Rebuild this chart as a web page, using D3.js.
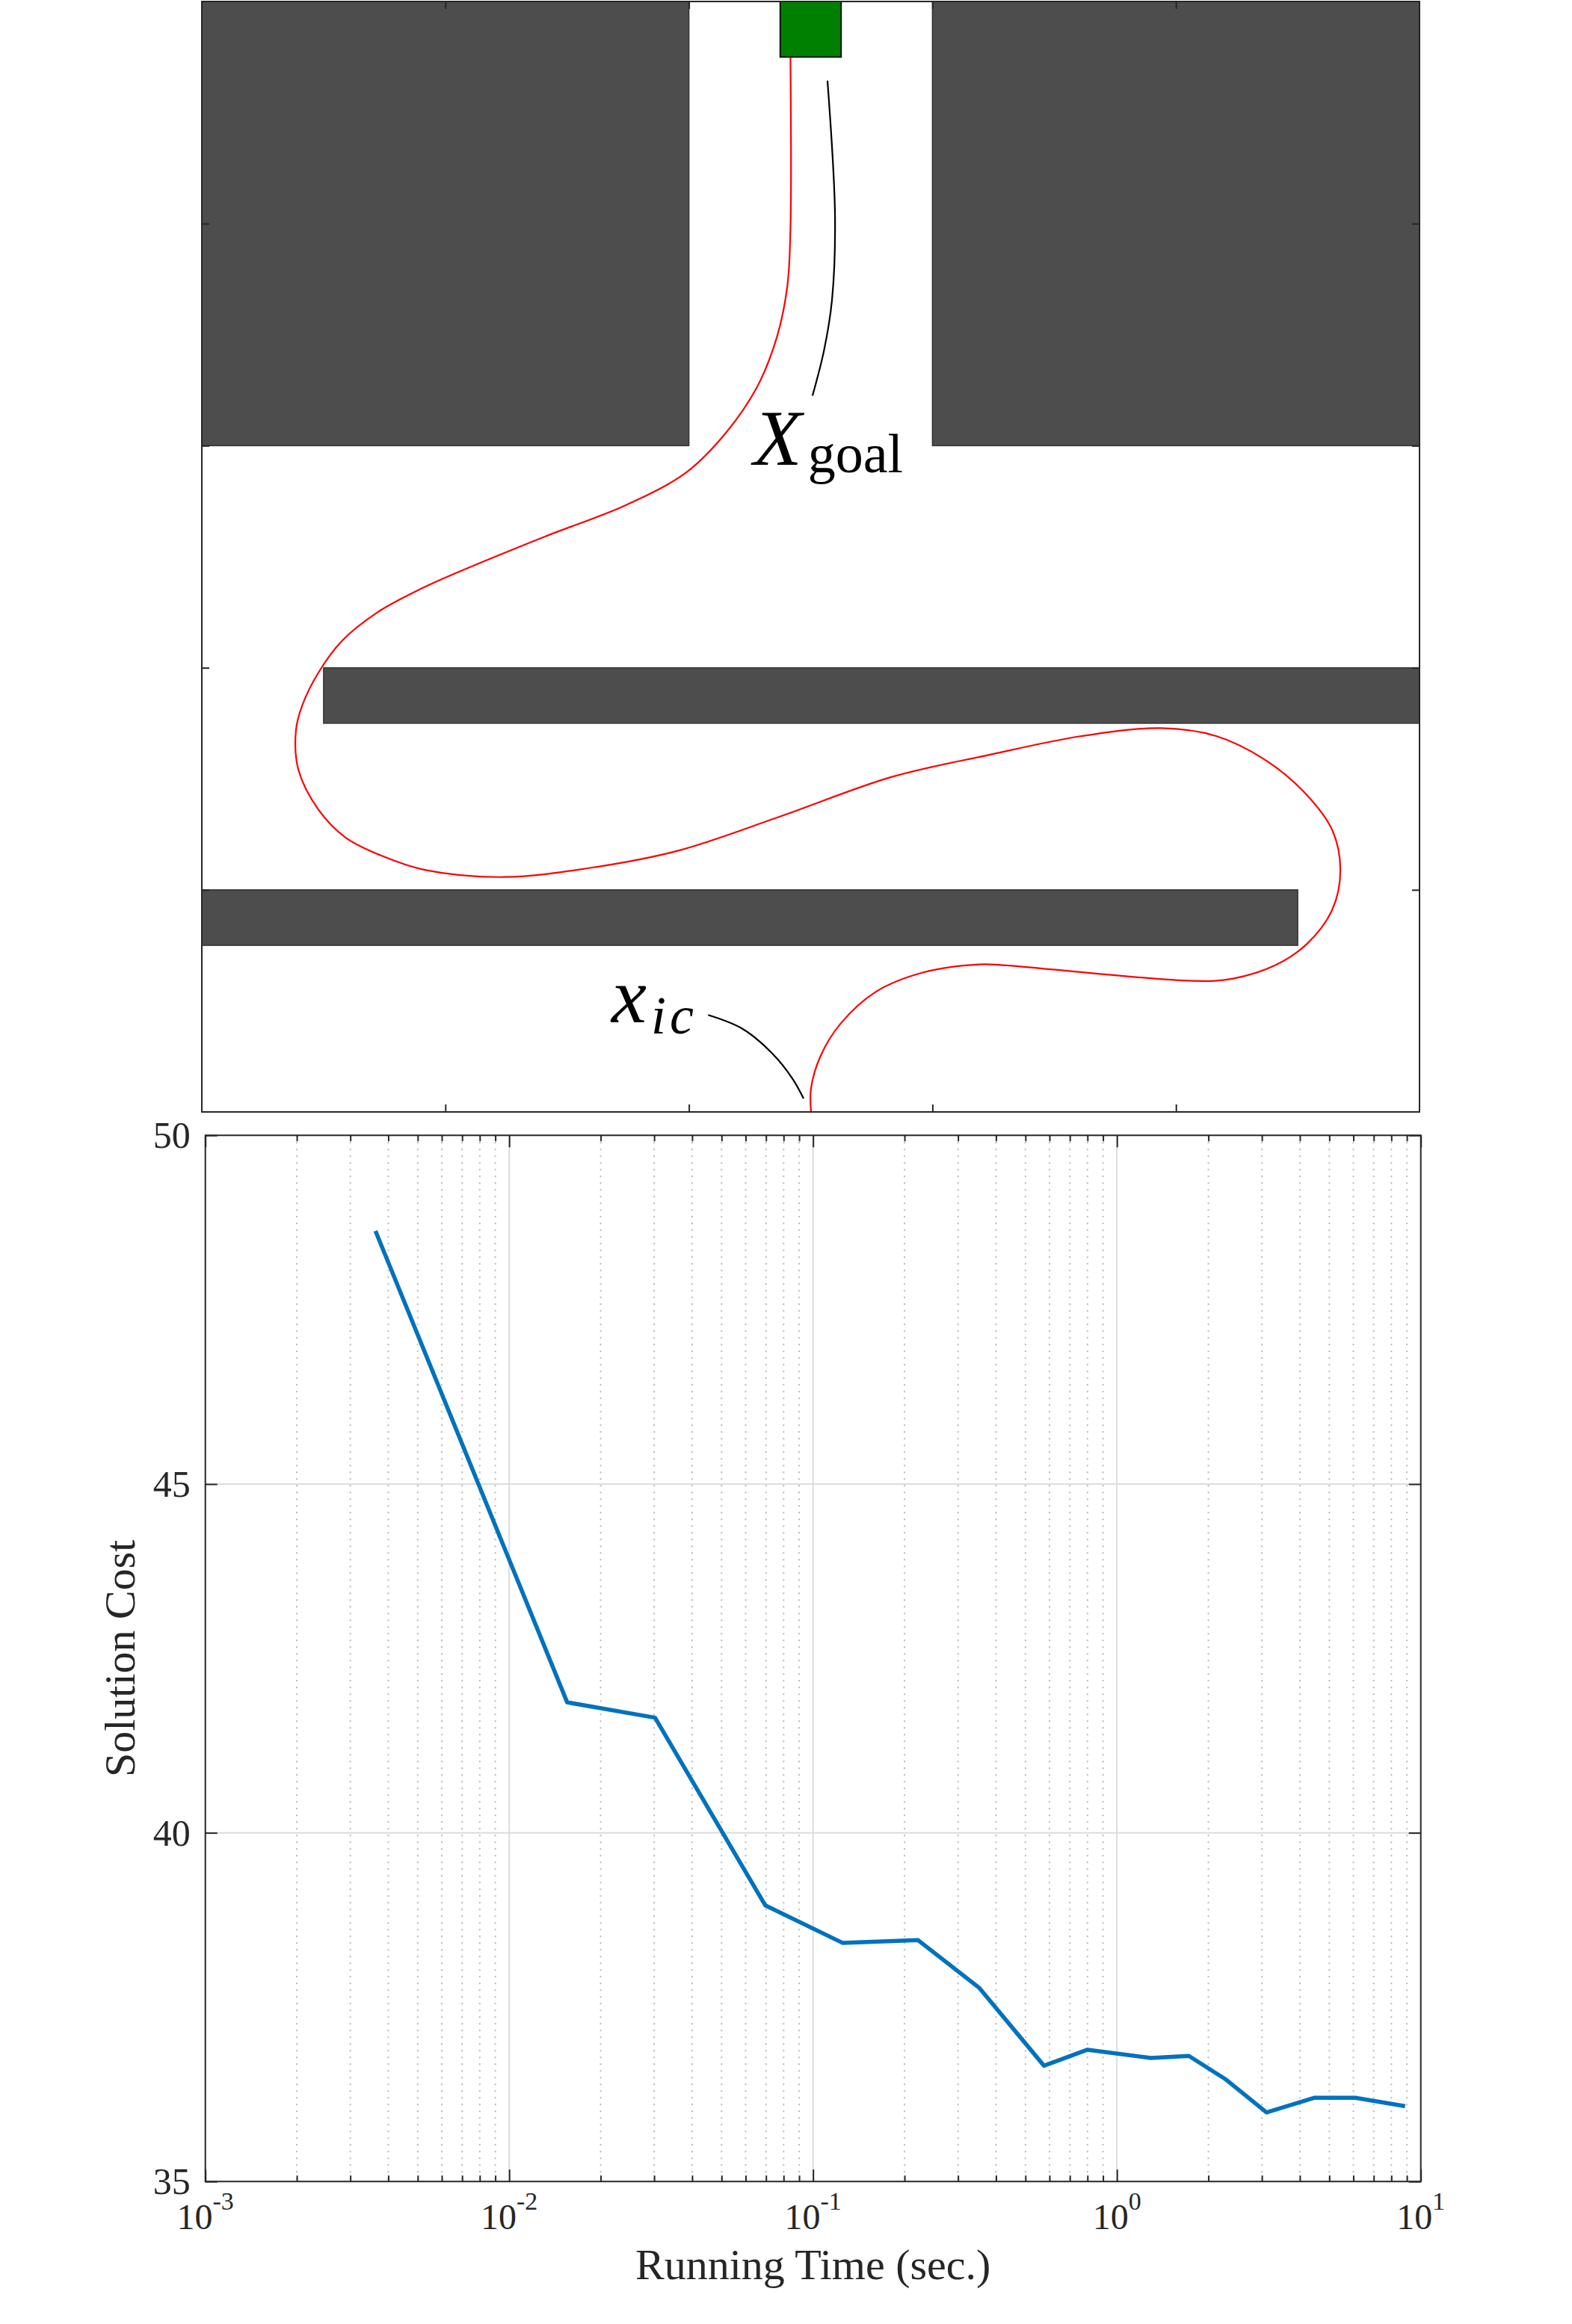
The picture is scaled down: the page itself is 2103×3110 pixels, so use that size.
<!DOCTYPE html>
<html><head><meta charset="utf-8">
<script src="https://cdn.jsdelivr.net/npm/d3@7"></script>
<style>body{margin:0;background:#fff} svg{display:block}</style>
</head><body><svg id="c" width="2103" height="3110"></svg>
<script>
// ---------------- data ----------------
// bottom panel: solution cost vs running time
const runTime = [0.00363,0.01552,0.0302,0.0696,0.1253,0.2216,0.3516,0.5754,0.8003,1.2935,1.725,2.288,3.107,4.455,6.084,8.878];
const solutionCost = [48.63,41.87,41.65,38.96,38.42,38.46,37.78,36.66,36.89,36.77,36.80,36.46,35.99,36.20,36.20,36.08];
const xMajorTicks = [1e-3,1e-2,1e-1,1e0,1e1];
const xTickExponents = ["-3","-2","-1","0","1"];
const yTicks = [35,40,45,50];
const xAxisLabel = "Running Time (sec.)";
const yAxisLabel = "Solution Cost";

// top panel: workspace
const obstacleXMin = [0,6,1,0];
const obstacleXMax = [4,10,10,9];
const obstacleYMin = [6,6,3.5,1.5];
const obstacleYMax = [10,10,4,2];
const goalX = [4.75,5.25];
const goalY = [9.5,10];
const pathX = [4.834,4.834,4.808,4.724,4.561,4.301,3.977,3.489,2.807,2.092,1.767,1.443,1.150,0.955,0.825,0.773,0.793,0.955,1.183,1.475,1.832,2.482,3.197,3.912,4.756,5.666,6.446,7.225,7.875,8.330,8.720,9.045,9.285,9.350,9.285,9.077,8.817,8.460,8.135,6.576,6.381,5.926,5.536,5.244,5.081,5.003,5.003];
const pathY = [9.497,7.95,7.434,6.983,6.531,6.112,5.758,5.468,5.177,4.855,4.694,4.5,4.242,3.952,3.662,3.437,3.082,2.727,2.469,2.308,2.179,2.115,2.199,2.353,2.663,3.017,3.211,3.385,3.456,3.385,3.179,2.888,2.534,2.179,1.825,1.515,1.322,1.199,1.180,1.322,1.328,1.257,1.083,0.793,0.503,0.213,0.0];
const goalLeaderX = [5.138,5.2,5.175,5.11,5.015];
const goalLeaderY = [9.287,8.06,7.31,6.86,6.45];
const icLeaderX = [4.158,4.44,4.686,4.85,4.942];
const icLeaderY = [0.873,0.749,0.525,0.301,0.121];
const workspaceTicks = [2,4,6,8];

// ---------------- drawing ----------------
const svg = d3.select("#c");
const axisColor = "#262626";
const serif = "Liberation Serif, Times New Roman, serif";

// ===== top panel =====
const T = {l:270, r:1899, t:2, b:1488};
const xT = d3.scaleLinear().domain([0,10]).range([T.l,T.r]);
const yT = d3.scaleLinear().domain([0,10]).range([T.b,T.t]);
const gT = svg.append("g");
svg.append("defs").append("clipPath").attr("id","clipT")
  .append("rect").attr("x",T.l).attr("y",T.t).attr("width",T.r-T.l).attr("height",T.b-T.t);
const gTc = gT.append("g").attr("clip-path","url(#clipT)");

gTc.selectAll("rect.obs").data(obstacleXMin.map((d,i)=>i)).enter().append("rect")
  .attr("class","obs")
  .attr("x",i=>xT(obstacleXMin[i]))
  .attr("y",i=>yT(obstacleYMax[i]))
  .attr("width",i=>xT(obstacleXMax[i])-xT(obstacleXMin[i]))
  .attr("height",i=>yT(obstacleYMin[i])-yT(obstacleYMax[i]))
  .attr("fill","#4d4d4d").attr("stroke","#333").attr("stroke-width",1.5);

gTc.append("rect")
  .attr("x",xT(goalX[0])).attr("y",yT(goalY[1]))
  .attr("width",xT(goalX[1])-xT(goalX[0])).attr("height",yT(goalY[0])-yT(goalY[1]))
  .attr("fill","#008000").attr("stroke","#111").attr("stroke-width",2);

const curveLine = d3.line().x(d=>xT(d[0])).y(d=>yT(d[1])).curve(d3.curveCatmullRom.alpha(0.5));
gTc.append("path").datum(pathX.map((x,i)=>[x,pathY[i]]))
  .attr("d",curveLine).attr("fill","none").attr("stroke","#ff0000").attr("stroke-width",2.2);

gTc.append("path").datum(goalLeaderX.map((x,i)=>[x,goalLeaderY[i]]))
  .attr("d",curveLine).attr("fill","none").attr("stroke","#000").attr("stroke-width",2.2);
gTc.append("path").datum(icLeaderX.map((x,i)=>[x,icLeaderY[i]]))
  .attr("d",curveLine).attr("fill","none").attr("stroke","#000").attr("stroke-width",2.2);

// labels
const tg = gT.append("text").attr("x",xT(4.53)).attr("y",yT(5.83))
  .style("font-family",serif).attr("fill","#000");
tg.append("tspan").style("font-family",serif).attr("font-size",106).attr("font-style","italic").text("X");
tg.append("tspan").style("font-family",serif).attr("font-size",74).attr("dy",10).attr("dx",8).text("goal");

const ti = gT.append("text").attr("x",xT(3.364)).attr("y",yT(0.808))
  .style("font-family",serif).attr("fill","#000");
ti.append("tspan").style("font-family",serif).attr("font-size",106).attr("font-style","italic").text("x");
ti.append("tspan").style("font-family",serif).attr("font-size",72).attr("font-style","italic").attr("dy",15).attr("dx",6).attr("letter-spacing",5).text("ic");

// ticks & box
function styleAxis(g){
  g.select(".domain").remove();
  g.selectAll(".tick line").attr("stroke",axisColor).attr("stroke-width",2);
  g.selectAll(".tick text").remove();
}
gT.append("g").attr("transform",`translate(0,${T.b})`)
  .call(d3.axisBottom(xT).tickValues(workspaceTicks).tickSizeInner(-10).tickSizeOuter(0).tickFormat("")).call(styleAxis);
gT.append("g").attr("transform",`translate(0,${T.t})`)
  .call(d3.axisTop(xT).tickValues(workspaceTicks).tickSizeInner(-10).tickSizeOuter(0).tickFormat("")).call(styleAxis);
gT.append("g").attr("transform",`translate(${T.l},0)`)
  .call(d3.axisLeft(yT).tickValues(workspaceTicks).tickSizeInner(-10).tickSizeOuter(0).tickFormat("")).call(styleAxis);
gT.append("g").attr("transform",`translate(${T.r},0)`)
  .call(d3.axisRight(yT).tickValues(workspaceTicks).tickSizeInner(-10).tickSizeOuter(0).tickFormat("")).call(styleAxis);
gT.append("rect").attr("x",T.l).attr("y",T.t).attr("width",T.r-T.l).attr("height",T.b-T.t)
  .attr("fill","none").attr("stroke",axisColor).attr("stroke-width",2);

// ===== bottom panel =====
const B = {l:274.7, r:1900.7, t:1519.3, b:2919.3};
const xB = d3.scaleLog().domain([1e-3,1e1]).range([B.l,B.r]);
const yB = d3.scaleLinear().domain([35,50]).range([B.b,B.t]);
const gB = svg.append("g");

const minorTicks = [];
for (let e=-3; e<1; e++) for (let m=2; m<=9; m++) minorTicks.push(m*Math.pow(10,e));

// grid
gB.selectAll("line.mgx").data(minorTicks).enter().append("line")
  .attr("x1",d=>xB(d)).attr("x2",d=>xB(d)).attr("y1",B.t).attr("y2",B.b)
  .attr("stroke","#b8b8b8").attr("stroke-width",2).attr("stroke-dasharray","2,7");
gB.selectAll("line.gx").data(xMajorTicks.slice(1,-1)).enter().append("line")
  .attr("x1",d=>xB(d)).attr("x2",d=>xB(d)).attr("y1",B.t).attr("y2",B.b)
  .attr("stroke","#dcdcdc").attr("stroke-width",2);
gB.selectAll("line.gy").data(yTicks.slice(1,-1)).enter().append("line")
  .attr("x1",B.l).attr("x2",B.r).attr("y1",d=>yB(d)).attr("y2",d=>yB(d))
  .attr("stroke","#dcdcdc").attr("stroke-width",2);

// data line
gB.append("path").datum(runTime.map((t,i)=>[t,solutionCost[i]]))
  .attr("d",d3.line().x(d=>xB(d[0])).y(d=>yB(d[1])))
  .attr("fill","none").attr("stroke","#0072bd").attr("stroke-width",5.5).attr("stroke-linejoin","round");

// ticks
gB.append("g").attr("transform",`translate(0,${B.b})`)
  .call(d3.axisBottom(xB).tickValues(xMajorTicks).tickSizeInner(-16).tickSizeOuter(0).tickFormat("")).call(styleAxis);
gB.append("g").attr("transform",`translate(0,${B.b})`)
  .call(d3.axisBottom(xB).tickValues(minorTicks).tickSizeInner(-8).tickSizeOuter(0).tickFormat("")).call(styleAxis);
gB.append("g").attr("transform",`translate(0,${B.t})`)
  .call(d3.axisTop(xB).tickValues(xMajorTicks).tickSizeInner(-16).tickSizeOuter(0).tickFormat("")).call(styleAxis);
gB.append("g").attr("transform",`translate(0,${B.t})`)
  .call(d3.axisTop(xB).tickValues(minorTicks).tickSizeInner(-8).tickSizeOuter(0).tickFormat("")).call(styleAxis);
gB.append("g").attr("transform",`translate(${B.l},0)`)
  .call(d3.axisLeft(yB).tickValues(yTicks).tickSizeInner(-16).tickSizeOuter(0).tickFormat("")).call(styleAxis);
gB.append("g").attr("transform",`translate(${B.r},0)`)
  .call(d3.axisRight(yB).tickValues(yTicks).tickSizeInner(-16).tickSizeOuter(0).tickFormat("")).call(styleAxis);
gB.append("rect").attr("x",B.l).attr("y",B.t).attr("width",B.r-B.l).attr("height",B.b-B.t)
  .attr("fill","none").attr("stroke",axisColor).attr("stroke-width",2);

// tick labels
gB.selectAll("text.yl").data(yTicks).enter().append("text")
  .attr("x",B.l-20).attr("y",d=>yB(d)).attr("dy","0.34em")
  .attr("text-anchor","end").style("font-family",serif).attr("font-size",50).attr("fill",axisColor)
  .text(d=>d);
const xl = gB.selectAll("text.xl").data(xMajorTicks).enter().append("text")
  .attr("x",d=>xB(d)).attr("y",B.b+64).attr("text-anchor","middle")
  .style("font-family",serif).attr("fill",axisColor);
xl.append("tspan").attr("font-size",48).text("10");
xl.append("tspan").attr("font-size",34).attr("dy",-26).text((d,i)=>xTickExponents[i]);

// axis labels
gB.append("text").attr("x",(B.l+B.r)/2).attr("y",3050).attr("text-anchor","middle")
  .style("font-family",serif).attr("font-size",58).attr("fill",axisColor).text(xAxisLabel);
gB.append("text").attr("transform",`translate(180,${(B.t+B.b)/2}) rotate(-90)`).attr("text-anchor","middle")
  .style("font-family",serif).attr("font-size",58).attr("fill",axisColor).text(yAxisLabel);
</script>
</body></html>
